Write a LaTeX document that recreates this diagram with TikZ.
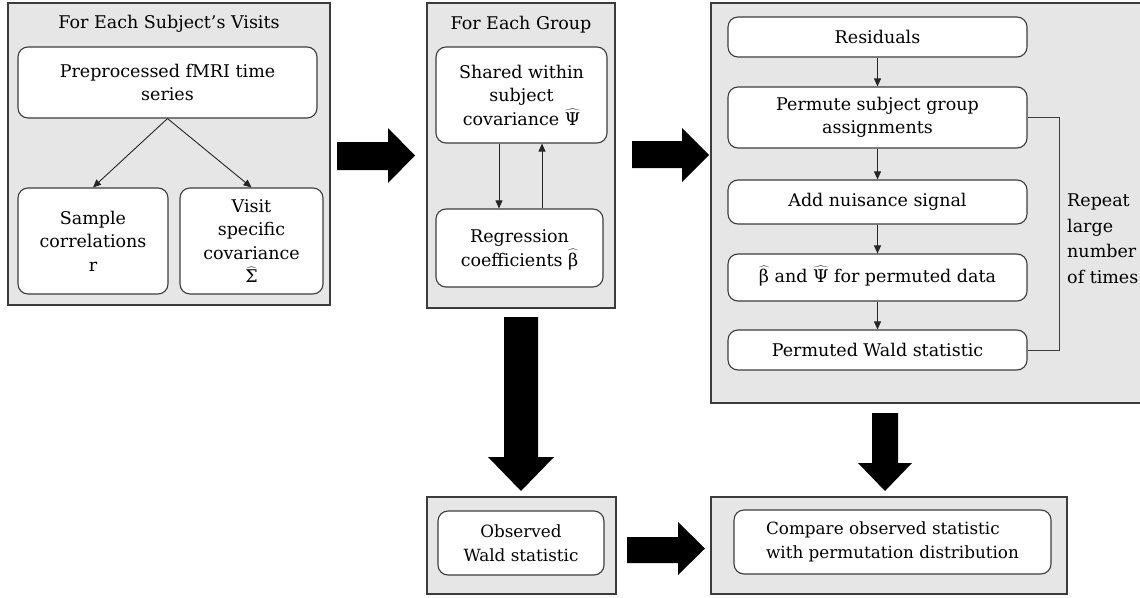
\documentclass[tikz,border=0pt]{standalone}
\usepackage{fontspec}
\setmainfont{DejaVu Serif}
\usetikzlibrary{arrows.meta}
\definecolor{panelgray}{RGB}{230,230,230}
\definecolor{edgegray}{RGB}{60,60,60}
\tikzset{
  panel/.style={draw=edgegray, line width=1.3pt, fill=panelgray, rectangle, inner sep=0pt},
  card/.style={draw=edgegray, line width=1.1pt, fill=white, rounded corners=10pt, inner sep=0pt,
    align=center, font=\fontsize{17.5}{23.5}\selectfont},
  smallcard/.style={card, font=\fontsize{16.8}{24}\selectfont},
  ttl/.style={inner sep=0pt, font=\fontsize{17.5}{23.5}\selectfont},
  thinarrow/.style={draw=black!85, line width=0.9pt, -{Triangle[length=8pt,width=7pt]}},
  loopline/.style={draw=edgegray, line width=1pt},
  blockarrow/.style={fill=black},
}
\newcommand\hatsym[1]{$\smash{\widehat{\hbox{#1}}}$}
\begin{document}
\begin{tikzpicture}[x=1pt,y=-1pt]
\useasboundingbox (0,0) rectangle (1140,597);
\clip (0,0) rectangle (1140,597);

% panels
\node[panel, minimum width=322pt, minimum height=302pt] (P1) at (169,154) {};
\node[panel, minimum width=188pt, minimum height=305pt] (P2) at (521,155.5) {};
\node[panel, minimum width=439pt, minimum height=400pt] (P3) at (930.5,203) {};
\node[panel, minimum width=189pt, minimum height=97pt] (P4) at (521.5,545.5) {};
\node[panel, minimum width=356pt, minimum height=97pt] (P5) at (889,545.5) {};

% titles
\node[ttl] (T1) at (169,24) {For Each Subject’s Visits};
\node[ttl] (T2) at (521,25) {For Each Group};

% panel 1
\node[card, minimum width=299pt, minimum height=71pt] (A) at (167.5,82.5) {Preprocessed fMRI time\\series};
\node[card, minimum width=150pt, minimum height=106pt] (B) at (93,241) {Sample\\correlations\\r};
\node[card, minimum width=143pt, minimum height=106pt] (C) at (251.5,241) {Visit\\specific\\covariance\\\hatsym{Σ}};
\draw[thinarrow] (A.south) -- (B.north);
\draw[thinarrow] (A.south) -- (C.north);

% panel 2
\node[card, minimum width=171pt, minimum height=96pt] (D) at (521.5,95) {Shared within\\subject\\covariance \hatsym{Ψ}};
\node[card, minimum width=167pt, minimum height=78pt] (E) at (519.5,248) {Regression\\coefficients \hatsym{β}};
\coordinate (xL) at (499,0);
\coordinate (xR) at (542,0);
\draw[thinarrow] (D.south -| xL) -- (E.north -| xL);
\draw[thinarrow] (E.north -| xR) -- (D.south -| xR);

% panel 3
\node[card, minimum width=299pt, minimum height=40pt] (F) at (877.5,37) {Residuals};
\node[card, minimum width=299pt, minimum height=61pt] (G) at (877.5,117.5) {Permute subject group\\assignments};
\node[card, minimum width=299pt, minimum height=44pt] (H) at (877.5,202) {Add nuisance signal};
\node[card, minimum width=299pt, minimum height=47pt] (I) at (877.5,277.5) {\hatsym{β} and \hatsym{Ψ} for permuted data};
\node[card, minimum width=299pt, minimum height=40pt] (J) at (877.5,350) {Permuted Wald statistic};
\draw[thinarrow] (F.south) -- (G.north);
\draw[thinarrow] (G.south) -- (H.north);
\draw[thinarrow] (H.south) -- (I.north);
\draw[thinarrow] (I.south) -- (J.north);
\coordinate (lp) at (1059,117.5);
\draw[loopline] (G.east) -- (lp) |- (J.east);
\node[anchor=west, align=left, inner sep=0pt, font=\fontsize{17.5}{25.5}\selectfont] (rep) at (1067,238.5) {Repeat\\large\\number\\of times};

% bottom panels
\node[smallcard, minimum width=166pt, minimum height=64pt] (K) at (521,543) {Observed\\Wald statistic};
\node[smallcard, minimum width=317pt, minimum height=64pt, align=left] (L) at (892.5,542) {Compare observed statistic\\with permutation distribution};

% block arrows
\fill[blockarrow] (337,142) -- (388,142) -- (388,128) -- (415,155.5) -- (388,183) -- (388,170) -- (337,170) -- cycle;
\fill[blockarrow] (632,141) -- (682,141) -- (682,128) -- (709,155) -- (682,182) -- (682,168) -- (632,168) -- cycle;
\fill[blockarrow] (504,317) -- (538,317) -- (538,457) -- (554,457) -- (521,491) -- (488,457) -- (504,457) -- cycle;
\fill[blockarrow] (872,413) -- (898,413) -- (898,463) -- (912,463) -- (885,491) -- (858,463) -- (872,463) -- cycle;
\fill[blockarrow] (627,537) -- (678,537) -- (678,522) -- (705,548.5) -- (678,575) -- (678,563) -- (627,563) -- cycle;
\end{tikzpicture}
\end{document}
